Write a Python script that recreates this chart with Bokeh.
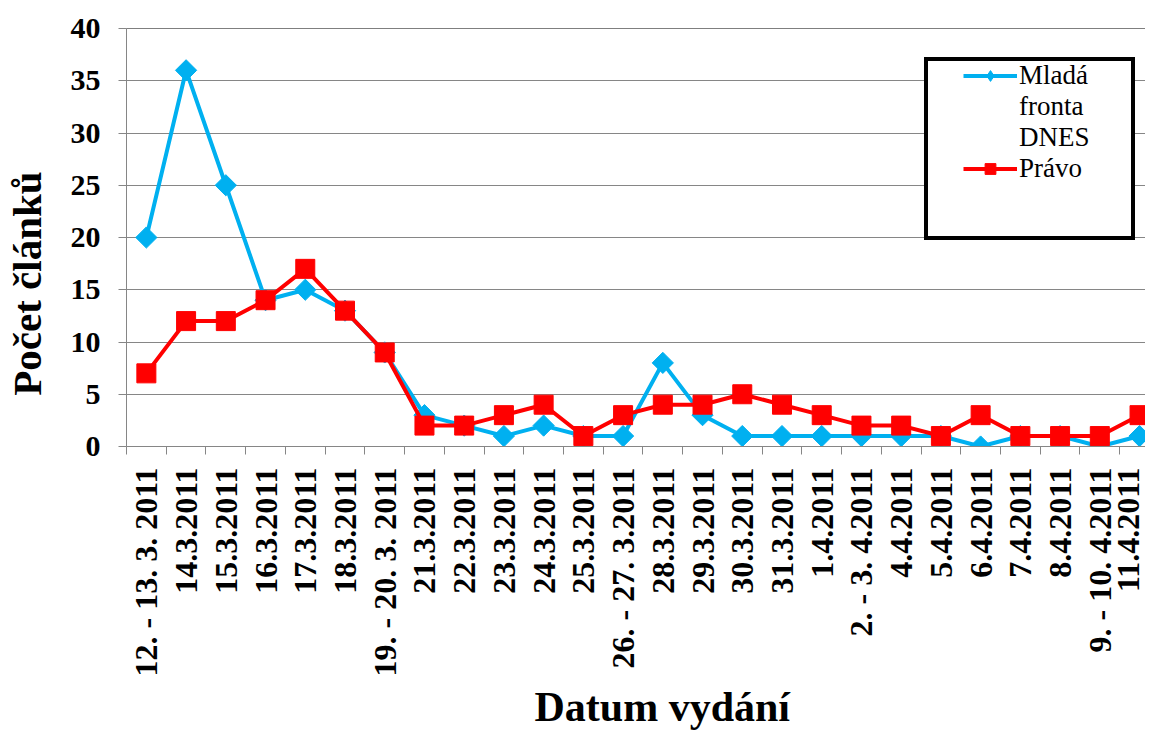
from bokeh.plotting import figure
from bokeh.models import (Range1d, FixedTicker, Span, Legend, LegendItem)
from bokeh.embed import file_html
from bokeh.resources import INLINE
import math

dates = ["12. - 13. 3. 2011", "14.3.2011", "15.3.2011", "16.3.2011", "17.3.2011",
         "18.3.2011", "19. - 20. 3. 2011", "21.3.2011", "22.3.2011", "23.3.2011",
         "24.3.2011", "25.3.2011", "26. - 27. 3.2011", "28.3.2011", "29.3.2011",
         "30.3.2011", "31.3.2011", "1.4.2011", "2. - 3. 4.2011", "4.4.2011",
         "5.4.2011", "6.4.2011", "7.4.2011", "8.4.2011", "9. - 10. 4.2011",
         "11.4.2011"]
mf_dnes = [20, 36, 25, 14, 15, 13, 9, 3, 2, 1, 2, 1, 1, 8, 3, 1, 1, 1, 1, 1, 1, 0, 1, 1, 0, 1]
pravo = [7, 12, 12, 14, 17, 13, 9, 2, 2, 3, 4, 1, 3, 4, 4, 5, 4, 3, 2, 2, 1, 3, 1, 1, 1, 3]
y_ticks = [0, 5, 10, 15, 20, 25, 30, 35, 40]
y_max = 40

xs = [i + 0.5 for i in range(len(dates))]
bounds = list(range(len(dates) + 1))

FONT = "'Liberation Serif', 'Times New Roman', serif"
BLUE = "#00B0F0"
RED = "#FF0000"
GRAY = "#868686"
NBSP = "\u00a0"

p = figure(width=1145, height=733, output_backend="svg", toolbar_location=None,
           x_range=Range1d(0, 25.65), y_range=Range1d(0, y_max),
           min_border_left=115, min_border_top=28, min_border_right=0,
           min_border_bottom=10)
p.outline_line_color = None
p.background_fill_color = "white"
p.border_fill_color = "white"

# grid
p.xgrid.grid_line_color = None
p.ygrid.grid_line_color = GRAY
p.ygrid.grid_line_width = 1
p.ygrid.ticker = FixedTicker(ticks=y_ticks)
p.add_layout(Span(location=y_max, dimension="width", line_color="black", line_width=1))

# x axis
xa = p.xaxis[0]
xa.ticker = FixedTicker(ticks=xs, minor_ticks=bounds)
xa.major_label_overrides = {x: d for x, d in zip(xs, dates)}
xa.major_label_orientation = math.pi / 2
xa.major_tick_out = 0
xa.major_tick_in = 0
xa.minor_tick_out = 8
xa.minor_tick_in = 0
xa.minor_tick_line_color = GRAY
xa.axis_line_color = GRAY
xa.major_label_standoff = 13
xa.major_label_text_font = FONT
xa.major_label_text_font_style = "bold"
xa.major_label_text_font_size = "32px"
xa.major_label_text_color = "black"
xa.axis_label = NBSP * 5 + "Datum vydání"
xa.axis_label_text_font = FONT
xa.axis_label_text_font_style = "bold"
xa.axis_label_text_font_size = "42px"
xa.axis_label_standoff = 5
xa.axis_label_text_color = "black"

# y axis
ya = p.yaxis[0]
ya.ticker = FixedTicker(ticks=y_ticks)
ya.major_tick_out = 8
ya.major_tick_in = 0
ya.minor_tick_out = 0
ya.minor_tick_in = 0
ya.major_tick_line_color = GRAY
ya.axis_line_color = GRAY
ya.major_label_standoff = 18
ya.major_label_text_font = FONT
ya.major_label_text_font_style = "bold"
ya.major_label_text_font_size = "30px"
ya.major_label_text_color = "black"
ya.axis_label = "Počet článků" + NBSP * 9
ya.axis_label_text_font = FONT
ya.axis_label_text_font_style = "bold"
ya.axis_label_text_font_size = "41px"
ya.axis_label_standoff = 18
ya.axis_label_text_color = "black"

# series
l1 = p.line(xs, mf_dnes, line_color=BLUE, line_width=4)
d1 = p.scatter(xs, mf_dnes, marker="diamond", size=14, fill_color=BLUE, line_color=BLUE)
m1 = p.scatter(xs, mf_dnes, marker="square", angle=math.pi / 4, size=15,
               fill_color=BLUE, line_color=BLUE)
l2 = p.line(xs, pravo, line_color=RED, line_width=4)
m2 = p.scatter(xs, pravo, marker="square", size=19, fill_color=RED, line_color=RED)
blank = p.line(xs, pravo, line_alpha=0)

# legend frame (drawn behind the entries)
box = Legend(items=[LegendItem(label=" ", renderers=[blank])], location=(798, 206))
box.border_line_color = "black"
box.border_line_alpha = 1
box.border_line_width = 4
box.background_fill_color = "white"
box.background_fill_alpha = 1
box.padding = 0
box.margin = 0
box.glyph_width = 1
box.glyph_height = 1
box.label_standoff = 0
box.label_width = 202
box.label_height = 175
p.add_layout(box, "center")

legend = Legend(items=[LegendItem(label="Mladá", renderers=[l1, d1]),
                       LegendItem(label="fronta\nDNES", renderers=[blank]),
                       LegendItem(label="Právo", renderers=[l2, m2])],
                location=(837, 262))
legend.border_line_color = None
legend.background_fill_alpha = 0
legend.padding = 0
legend.margin = 0
legend.spacing = 0
legend.glyph_width = 54
legend.glyph_height = 27
legend.label_standoff = 2
legend.label_height = 27
legend.label_text_font = FONT
legend.label_text_font_size = "27px"
legend.label_text_line_height = 1.0
legend.label_text_color = "black"
p.add_layout(legend, "center")

open("out.html", "w").write(file_html(p, INLINE))
